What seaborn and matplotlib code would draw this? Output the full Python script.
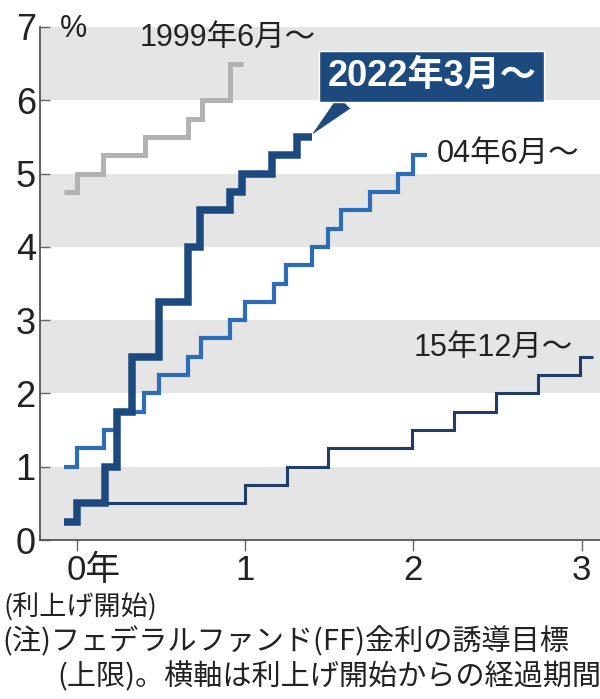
import matplotlib
matplotlib.use("Agg")
import matplotlib.pyplot as plt
import matplotlib.transforms as mtrans
import seaborn as sns
import pandas as pd
from matplotlib import font_manager as fm

# ---------------- data ----------------
x_1999 = [-0.08, 0.0, 0.155, 0.405, 0.66, 0.745, 0.91, 0.99]
y_1999 = [4.75, 5.0, 5.25, 5.5, 5.75, 6.0, 6.5, 6.5]

x_2022 = [-0.08, 0.0, 0.167, 0.24, 0.33, 0.49, 0.66, 0.73, 0.91, 0.98, 1.16, 1.31, 1.40]
y_2022 = [0.25, 0.5, 1.0, 1.75, 2.5, 3.25, 4.0, 4.5, 4.75, 5.0, 5.25, 5.5, 5.5]

x_2004 = [-0.08, 0.0, 0.16, 0.23, 0.40, 0.49, 0.66, 0.74, 0.91, 1.0, 1.17, 1.24,
          1.40, 1.49, 1.57, 1.74, 1.91, 2.0, 2.08]
y_2004 = [1.0, 1.25, 1.5, 1.75, 2.0, 2.25, 2.5, 2.75, 3.0, 3.25, 3.5, 3.75,
          4.0, 4.25, 4.5, 4.75, 5.0, 5.25, 5.25]

x_2015 = [-0.08, 0.0, 1.0, 1.25, 1.49, 1.99, 2.24, 2.49, 2.74, 2.99, 3.07]
y_2015 = [0.25, 0.5, 0.75, 1.0, 1.25, 1.5, 1.75, 2.0, 2.25, 2.5, 2.5]

series_labels = ["1999年6月～", "2022年3月～", "04年6月～", "15年12月～"]
y_ticks = [0, 1, 2, 3, 4, 5, 6, 7]
x_ticks = [0, 1, 2, 3]
x_tick_labels = ["0年", "1", "2", "3"]
unit_label = "%"
start_label = "(利上げ開始)"
note_lines = ["(注)フェデラルファンド(FF)金利の誘導目標",
              "(上限)。横軸は利上げ開始からの経過期間"]

# ---------------- style ----------------
sns.set_theme(style="white")
names = {f.name for f in fm.fontManager.ttflist}
narrow = "Liberation Sans Narrow" if "Liberation Sans Narrow" in names else "Liberation Sans"
FAM = [narrow, "Noto Sans CJK JP", "DejaVu Sans"]
JP = ["Noto Sans CJK JP", "DejaVu Sans"]
plt.rcParams["font.family"] = FAM

fig = plt.figure(figsize=(6.0, 6.99), dpi=100)
ax = fig.add_axes([40 / 600, 1 - 540 / 699, 1 - 40 / 600, (540 - 27) / 699])

# bands
for lo in (0, 2, 4, 6):
    ax.axhspan(lo, lo + 1, color="#e5e5e5", lw=0, zorder=0)

GRAY = "#b2b2b2"
NAVY = "#1d4a7e"
BLUE = "#2d6cb6"
DNAVY = "#1f3d66"

df = pd.concat([
    pd.DataFrame({"x": x_1999, "y": y_1999, "s": series_labels[0]}),
    pd.DataFrame({"x": x_2015, "y": y_2015, "s": series_labels[3]}),
    pd.DataFrame({"x": x_2004, "y": y_2004, "s": series_labels[2]}),
    pd.DataFrame({"x": x_2022, "y": y_2022, "s": series_labels[1]}),
])
styles = {series_labels[0]: (GRAY, 3.6, 2),
          series_labels[3]: (DNAVY, 2.2, 3),
          series_labels[2]: (BLUE, 3.0, 4),
          series_labels[1]: (NAVY, 5.4, 5)}
for name, sub in df.groupby("s", sort=False):
    c, lw, z = styles[name]
    sns.lineplot(data=sub, x="x", y="y", ax=ax, color=c, lw=lw,
                 drawstyle="steps-post", zorder=z, sort=False,
                 solid_joinstyle="miter", solid_capstyle="butt")

ax.set_xlim(-0.22, 3.11)
ax.set_ylim(0, 7)
ax.set_xlabel("")
ax.set_ylabel("")

for s in ("top", "right"):
    ax.spines[s].set_visible(False)
for s in ("left", "bottom"):
    ax.spines[s].set_color("#555555")
    ax.spines[s].set_linewidth(1.3)

ax.set_yticks(y_ticks)
ax.set_yticklabels([str(v) for v in y_ticks])
ax.tick_params(axis="y", direction="in", length=7, width=1.0, color="#666666",
               labelsize=26, pad=3, left=True)
ax.set_xticks(x_ticks)
ax.set_xticklabels(x_tick_labels)
ax.tick_params(axis="x", direction="out", length=8, width=1.0, color="#666666",
               labelsize=25, pad=2, bottom=True)
for lab in ax.get_yticklabels() + ax.get_xticklabels():
    lab.set_color("#222222")
    lab.set_family(FAM)
lab0 = ax.get_xticklabels()[0]
lab0.set_ha("left")
lab0.set_transform(lab0.get_transform() + mtrans.ScaledTranslation(-10 / 100, 0, fig.dpi_scale_trans))

# labels
ax.text(-0.1, 6.97, unit_label, fontsize=22, color="#222222", ha="left", va="center", family=FAM)
ax.text(0.375, 6.85, series_labels[0], fontsize=22, color="#222222", ha="left", va="center", family=FAM)
ax.text(2.14, 5.27, series_labels[2], fontsize=22, color="#222222", ha="left", va="center", family=FAM)
ax.text(2.0, 2.62, series_labels[3], fontsize=22, color="#222222", ha="left", va="center", family=FAM)

ax.annotate(series_labels[1], xy=(1.405, 5.55), xytext=(2.11, 6.32),
            fontsize=26, fontweight="bold", color="white", ha="center", va="center",
            family=FAM, zorder=10,
            bbox=dict(boxstyle="square,pad=0.22", fc=NAVY, ec="white", lw=1),
            arrowprops=dict(arrowstyle="wedge,tail_width=0.45,shrink_factor=0.5",
                            fc=NAVY, ec=NAVY, lw=0.5, relpos=(0.12, 0.0),
                            shrinkA=0, shrinkB=0))

fig.text(4 / 600, 1 - 608 / 699, start_label, fontsize=19.5, color="#222222",
         ha="left", va="center", family=JP)
fig.text(2 / 600, 1 - 642 / 699, note_lines[0], fontsize=21, color="#222222",
         ha="left", va="center", family=JP)
fig.text(57 / 600, 1 - 677 / 699, note_lines[1], fontsize=21, color="#222222",
         ha="left", va="center", family=JP)

fig.savefig("out.png", dpi=100)
